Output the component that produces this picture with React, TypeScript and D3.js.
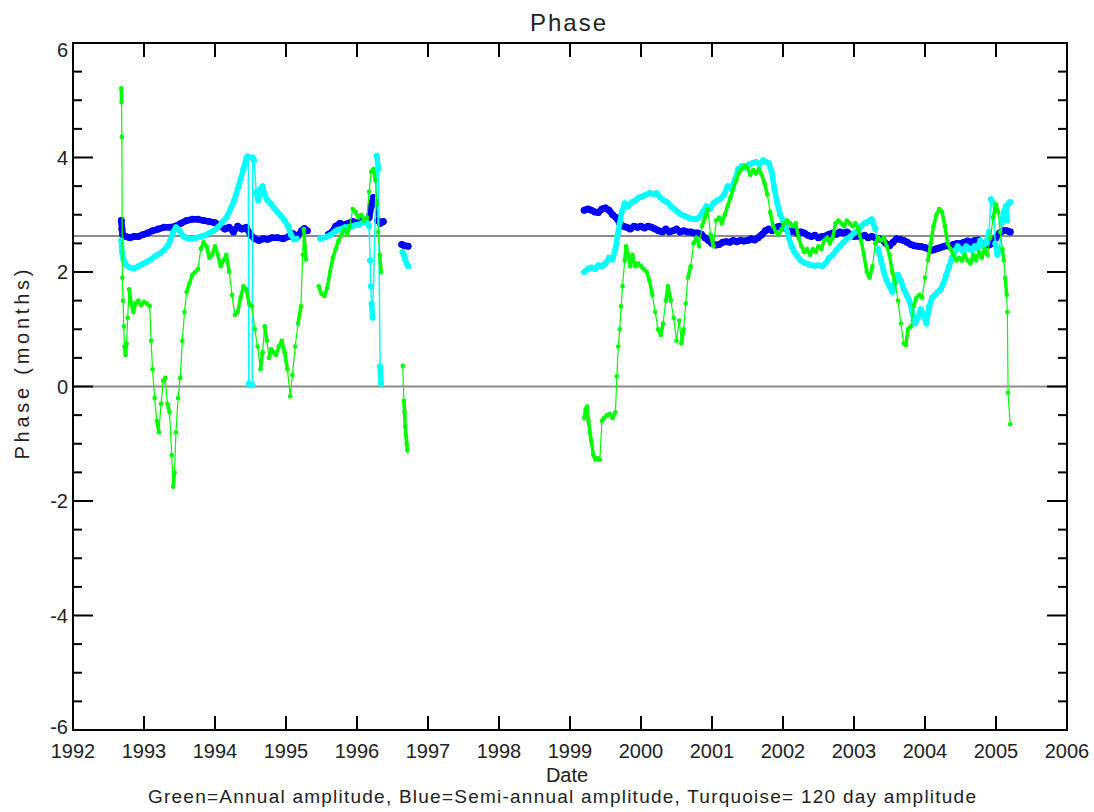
import React, { useEffect, useRef } from 'react';
import * as d3 from 'd3';

type Pt = [number, number | null];

const yearTicks = [1992, 1993, 1994, 1995, 1996, 1997, 1998, 1999, 2000, 2001, 2002, 2003, 2004, 2005, 2006];
const phaseTicks = [-6, -4, -2, 0, 2, 4, 6];
const refLevels = [0, 2.63];

// Green = annual amplitude phase (months)
const annual: Pt[] = [
  [1992.680, 5.21], [1992.684, 4.97], [1992.688, 4.36], [1992.695, 1.90], [1992.705, 1.50], [1992.715, 1.05],
  [1992.725, 0.70], [1992.740, 0.55], [1992.755, 0.75], [1992.770, 1.20], [1992.790, 1.70], [1992.820, 1.45],
  [1992.850, 1.30], [1992.880, 1.45], [1992.920, 1.50], [1992.960, 1.42], [1993.000, 1.48], [1993.040, 1.45],
  [1993.080, 1.40], [1993.100, 0.80], [1993.120, 0.30], [1993.150, -0.20], [1993.180, -0.60], [1993.210, -0.80],
  [1993.240, -0.30], [1993.270, 0.10], [1993.300, 0.15], [1993.330, -0.30], [1993.360, -0.45], [1993.390, -1.20],
  [1993.410, -1.75], [1993.430, -1.50], [1993.450, -0.80], [1993.480, -0.20], [1993.510, 0.15], [1993.540, 0.80],
  [1993.570, 1.30], [1993.600, 1.65], [1993.640, 1.80], [1993.680, 1.95], [1993.720, 2.00], [1993.760, 2.05],
  [1993.800, 2.40], [1993.840, 2.52], [1993.880, 2.45], [1993.920, 2.25], [1993.960, 2.30], [1994.000, 2.45],
  [1994.040, 2.30], [1994.080, 2.10], [1994.120, 2.20], [1994.160, 2.30], [1994.200, 2.00], [1994.240, 1.60],
  [1994.280, 1.25], [1994.320, 1.30], [1994.360, 1.55], [1994.400, 1.75], [1994.440, 1.70], [1994.480, 1.45],
  [1994.520, 1.40], [1994.560, 1.00], [1994.600, 0.70], [1994.640, 0.30], [1994.670, 0.60], [1994.700, 1.05],
  [1994.730, 0.80], [1994.760, 0.50], [1994.790, 0.65], [1994.820, 0.60], [1994.860, 0.55], [1994.900, 0.70],
  [1994.940, 0.80], [1994.980, 0.60], [1995.020, 0.30], [1995.060, -0.17], [1995.090, 0.20], [1995.130, 0.70],
  [1995.170, 1.10], [1995.210, 1.40], [1995.235, 2.30], [1995.250, 2.75], [1995.265, 2.45], [1995.280, 2.22],
  [1995.300, null],
  [1995.460, 1.75], [1995.500, 1.62], [1995.540, 1.58], [1995.580, 1.72], [1995.620, 2.00], [1995.660, 2.25],
  [1995.700, 2.40], [1995.740, 2.55], [1995.780, 2.65], [1995.820, 2.75], [1995.860, 2.65], [1995.900, 2.80],
  [1995.940, 3.10], [1995.980, 3.05], [1996.020, 2.95], [1996.060, 3.00], [1996.100, 2.90], [1996.140, 2.95],
  [1996.170, 3.40], [1996.200, 3.75], [1996.230, 3.80], [1996.260, 3.60], [1996.280, 3.20], [1996.300, 2.70],
  [1996.320, 2.30], [1996.340, 2.00],
  [1996.500, null],
  [1996.645, 0.36], [1996.660, -0.25], [1996.670, -0.45], [1996.680, -0.70], [1996.690, -0.85], [1996.700, -1.00],
  [1996.710, -1.12],
  [1998.000, null],
  [1999.200, -0.55], [1999.220, -0.40], [1999.240, -0.35], [1999.260, -0.60], [1999.280, -0.80], [1999.300, -0.95],
  [1999.330, -1.20], [1999.360, -1.28], [1999.390, -1.25], [1999.420, -1.28], [1999.450, -0.60], [1999.480, -0.55],
  [1999.520, -0.50], [1999.560, -0.48], [1999.600, -0.55], [1999.640, -0.45], [1999.660, 0.18], [1999.680, 0.70],
  [1999.700, 1.00], [1999.720, 1.40], [1999.740, 1.75], [1999.770, 2.20], [1999.790, 2.45], [1999.820, 2.30],
  [1999.850, 2.10], [1999.880, 2.30], [1999.920, 2.10], [1999.960, 2.15], [2000.000, 2.10], [2000.040, 2.05],
  [2000.080, 2.00], [2000.120, 1.85], [2000.160, 1.60], [2000.200, 1.30], [2000.240, 1.00], [2000.280, 0.90],
  [2000.310, 1.10], [2000.350, 1.50], [2000.380, 1.75], [2000.420, 1.50], [2000.460, 1.20], [2000.500, 0.80],
  [2000.540, 1.15], [2000.570, 0.75], [2000.600, 1.00], [2000.630, 1.45], [2000.660, 1.90], [2000.700, 2.10],
  [2000.740, 2.50], [2000.780, 2.60], [2000.820, 2.45], [2000.860, 2.80], [2000.900, 2.95], [2000.940, 3.10],
  [2000.980, 2.65], [2001.020, 2.45], [2001.060, 2.90], [2001.100, 2.95], [2001.140, 2.85], [2001.180, 3.00],
  [2001.220, 3.15], [2001.260, 3.30], [2001.300, 3.45], [2001.340, 3.60], [2001.380, 3.74], [2001.420, 3.80],
  [2001.460, 3.86], [2001.500, 3.82], [2001.540, 3.70], [2001.580, 3.78], [2001.620, 3.72], [2001.660, 3.80],
  [2001.700, 3.70], [2001.740, 3.55], [2001.780, 3.35], [2001.820, 3.05], [2001.860, 2.80], [2001.900, 2.70],
  [2001.940, 2.65], [2001.980, 2.75], [2002.020, 2.85], [2002.060, 2.90], [2002.100, 2.85], [2002.140, 2.80],
  [2002.180, 2.85], [2002.220, 2.60], [2002.260, 2.45], [2002.300, 2.35], [2002.340, 2.40], [2002.380, 2.30],
  [2002.420, 2.40], [2002.460, 2.35], [2002.500, 2.45], [2002.540, 2.40], [2002.580, 2.55], [2002.620, 2.60],
  [2002.660, 2.50], [2002.700, 2.60], [2002.740, 2.85], [2002.780, 2.90], [2002.820, 2.85], [2002.860, 2.80],
  [2002.900, 2.90], [2002.940, 2.85], [2002.980, 2.80], [2003.020, 2.85], [2003.060, 2.75], [2003.100, 2.55],
  [2003.140, 2.30], [2003.180, 2.00], [2003.220, 1.90], [2003.260, 2.10], [2003.300, 2.50], [2003.340, 2.60],
  [2003.380, 2.55], [2003.420, 2.60], [2003.460, 2.45], [2003.500, 2.30], [2003.540, 2.00], [2003.580, 1.80],
  [2003.620, 1.50], [2003.660, 1.10], [2003.700, 0.75], [2003.730, 0.72], [2003.760, 1.00], [2003.800, 1.05],
  [2003.840, 1.40], [2003.880, 1.55], [2003.920, 1.60], [2003.960, 1.55], [2004.000, 1.90], [2004.040, 2.20],
  [2004.080, 2.50], [2004.120, 2.80], [2004.160, 3.00], [2004.200, 3.10], [2004.240, 3.05], [2004.280, 2.80],
  [2004.320, 2.50], [2004.360, 2.40], [2004.400, 2.30], [2004.440, 2.20], [2004.480, 2.25], [2004.520, 2.20],
  [2004.560, 2.30], [2004.600, 2.20], [2004.640, 2.15], [2004.680, 2.30], [2004.720, 2.20], [2004.760, 2.35],
  [2004.800, 2.25], [2004.840, 2.40], [2004.880, 2.30], [2004.920, 2.60], [2004.960, 2.95], [2005.000, 3.18],
  [2005.030, 3.05], [2005.060, 2.70], [2005.090, 2.40], [2005.110, 2.20], [2005.130, 1.90], [2005.150, 1.60],
  [2005.160, 1.30], [2005.170, -0.11], [2005.200, -0.66],
];

// Blue = semi-annual amplitude phase
const semiAnnual: Pt[] = [
  [1992.680, 2.90], [1992.690, 2.75], [1992.700, 2.65], [1992.740, 2.62], [1992.800, 2.60], [1992.860, 2.62],
  [1992.920, 2.62], [1992.980, 2.65], [1993.050, 2.68], [1993.120, 2.72], [1993.200, 2.75], [1993.280, 2.78],
  [1993.360, 2.78], [1993.440, 2.80], [1993.520, 2.85], [1993.600, 2.90], [1993.680, 2.92], [1993.760, 2.92],
  [1993.840, 2.90], [1993.920, 2.88], [1994.000, 2.86], [1994.080, 2.80], [1994.140, 2.75], [1994.200, 2.78],
  [1994.260, 2.70], [1994.320, 2.80], [1994.380, 2.75], [1994.440, 2.78], [1994.500, 2.65], [1994.560, 2.58],
  [1994.620, 2.55], [1994.680, 2.58], [1994.740, 2.57], [1994.800, 2.60], [1994.880, 2.60], [1994.960, 2.58],
  [1995.040, 2.62], [1995.100, 2.67], [1995.160, 2.62], [1995.220, 2.72], [1995.260, 2.76], [1995.300, 2.72],
  [1995.400, null],
  [1995.600, 2.66], [1995.650, 2.70], [1995.700, 2.80], [1995.760, 2.85], [1995.820, 2.82], [1995.880, 2.85],
  [1995.940, 2.88], [1996.000, 2.85], [1996.060, 2.90], [1996.120, 2.88], [1996.170, 2.95], [1996.200, 3.15],
  [1996.230, 3.30], [1996.260, 3.20], [1996.290, 2.90], [1996.330, 2.85], [1996.370, 2.88],
  [1996.500, null],
  [1996.630, 2.48], [1996.670, 2.46], [1996.720, 2.45],
  [1998.000, null],
  [1999.200, 3.08], [1999.250, 3.10], [1999.300, 3.08], [1999.350, 3.05], [1999.400, 3.04], [1999.450, 3.10],
  [1999.500, 3.12], [1999.550, 3.08], [1999.600, 3.00], [1999.650, 2.95], [1999.700, 2.85], [1999.750, 2.80],
  [1999.800, 2.78], [1999.850, 2.75], [1999.900, 2.80], [1999.950, 2.78], [2000.000, 2.80], [2000.050, 2.77],
  [2000.100, 2.80], [2000.150, 2.78], [2000.200, 2.75], [2000.250, 2.72], [2000.300, 2.70], [2000.350, 2.75],
  [2000.400, 2.70], [2000.450, 2.72], [2000.500, 2.75], [2000.550, 2.70], [2000.600, 2.72], [2000.650, 2.70],
  [2000.700, 2.70], [2000.750, 2.68], [2000.800, 2.68], [2000.850, 2.66], [2000.900, 2.60], [2000.950, 2.55],
  [2001.000, 2.50], [2001.050, 2.47], [2001.100, 2.48], [2001.150, 2.52], [2001.200, 2.53], [2001.250, 2.52],
  [2001.300, 2.55], [2001.350, 2.53], [2001.400, 2.55], [2001.450, 2.54], [2001.500, 2.55], [2001.550, 2.58],
  [2001.600, 2.56], [2001.650, 2.60], [2001.700, 2.65], [2001.750, 2.72], [2001.800, 2.75], [2001.850, 2.72],
  [2001.900, 2.78], [2001.950, 2.80], [2002.000, 2.78], [2002.050, 2.75], [2002.100, 2.70], [2002.150, 2.72],
  [2002.200, 2.68], [2002.250, 2.70], [2002.300, 2.68], [2002.350, 2.64], [2002.400, 2.62], [2002.450, 2.64],
  [2002.500, 2.60], [2002.550, 2.62], [2002.600, 2.63], [2002.650, 2.66], [2002.700, 2.68], [2002.750, 2.66],
  [2002.800, 2.70], [2002.850, 2.68], [2002.900, 2.70], [2002.950, 2.66], [2003.000, 2.62], [2003.050, 2.63],
  [2003.100, 2.62], [2003.150, 2.64], [2003.200, 2.60], [2003.250, 2.62], [2003.300, 2.60], [2003.350, 2.58],
  [2003.400, 2.56], [2003.450, 2.50], [2003.500, 2.46], [2003.550, 2.52], [2003.600, 2.58], [2003.650, 2.57],
  [2003.700, 2.55], [2003.750, 2.52], [2003.800, 2.48], [2003.850, 2.46], [2003.900, 2.45], [2003.950, 2.44],
  [2004.000, 2.43], [2004.050, 2.40], [2004.100, 2.38], [2004.150, 2.40], [2004.200, 2.42], [2004.250, 2.44],
  [2004.300, 2.46], [2004.350, 2.45], [2004.400, 2.48], [2004.450, 2.50], [2004.500, 2.50], [2004.550, 2.52],
  [2004.600, 2.54], [2004.650, 2.52], [2004.700, 2.55], [2004.750, 2.56], [2004.800, 2.50], [2004.850, 2.48],
  [2004.900, 2.47], [2004.950, 2.50], [2005.000, 2.60], [2005.050, 2.68], [2005.100, 2.72], [2005.150, 2.72],
  [2005.200, 2.70],
];

// Turquoise = 120 day amplitude phase
const day120: Pt[] = [
  [1992.680, 2.55], [1992.690, 2.35], [1992.710, 2.22], [1992.750, 2.12], [1992.800, 2.08], [1992.860, 2.06],
  [1992.920, 2.10], [1992.980, 2.14], [1993.040, 2.18], [1993.100, 2.22], [1993.160, 2.28], [1993.220, 2.32],
  [1993.280, 2.38], [1993.330, 2.45], [1993.370, 2.55], [1993.410, 2.70], [1993.450, 2.78], [1993.500, 2.72],
  [1993.560, 2.62], [1993.620, 2.58], [1993.680, 2.58], [1993.740, 2.60], [1993.800, 2.62], [1993.860, 2.64],
  [1993.920, 2.68], [1993.980, 2.72], [1994.040, 2.78], [1994.100, 2.86], [1994.160, 2.95], [1994.220, 3.10],
  [1994.270, 3.25], [1994.320, 3.45], [1994.360, 3.62], [1994.400, 3.80], [1994.440, 3.98], [1994.460, 4.02],
  [1994.470, 4.00], [1994.475, 0.05], [1994.490, 0.02], [1994.510, 0.05], [1994.525, 0.03], [1994.530, 4.00],
  [1994.550, 3.95], [1994.580, 3.40], [1994.610, 3.25], [1994.640, 3.45], [1994.670, 3.50], [1994.700, 3.35],
  [1994.740, 3.25], [1994.780, 3.20], [1994.830, 3.12], [1994.880, 3.05], [1994.930, 2.98], [1994.980, 2.90],
  [1995.030, 2.80], [1995.070, 2.65], [1995.110, 2.57], [1995.150, 2.58],
  [1995.200, null],
  [1995.480, 2.58], [1995.530, 2.60], [1995.580, 2.62], [1995.630, 2.65], [1995.680, 2.70], [1995.730, 2.74],
  [1995.780, 2.75], [1995.830, 2.78], [1995.880, 2.78], [1995.930, 2.80], [1995.980, 2.82], [1996.030, 2.83],
  [1996.080, 2.86], [1996.130, 2.88], [1996.170, 2.80], [1996.185, 2.20], [1996.195, 1.75], [1996.205, 1.45],
  [1996.220, 1.20], [1996.280, 4.03], [1996.300, 3.80], [1996.325, 0.35], [1996.340, 0.05],
  [1996.500, null],
  [1996.640, 2.35], [1996.660, 2.30], [1996.680, 2.22], [1996.700, 2.15], [1996.720, 2.10],
  [1998.000, null],
  [1999.200, 2.00], [1999.250, 2.05], [1999.300, 2.08], [1999.350, 2.05], [1999.400, 2.12], [1999.450, 2.10],
  [1999.500, 2.15], [1999.550, 2.25], [1999.600, 2.22], [1999.640, 2.40], [1999.670, 2.65], [1999.700, 2.85],
  [1999.730, 3.05], [1999.770, 3.20], [1999.820, 3.15], [1999.870, 3.22], [1999.920, 3.25], [1999.970, 3.30],
  [2000.020, 3.32], [2000.070, 3.35], [2000.120, 3.38], [2000.170, 3.36], [2000.220, 3.38], [2000.270, 3.30],
  [2000.320, 3.25], [2000.370, 3.22], [2000.420, 3.15], [2000.470, 3.10], [2000.520, 3.05], [2000.570, 3.00],
  [2000.620, 2.98], [2000.670, 2.95], [2000.720, 2.93], [2000.770, 2.92], [2000.820, 2.95], [2000.870, 3.05],
  [2000.920, 3.15], [2000.970, 3.10], [2001.020, 3.20], [2001.070, 3.25], [2001.120, 3.28], [2001.170, 3.35],
  [2001.220, 3.50], [2001.270, 3.45], [2001.320, 3.60], [2001.370, 3.80], [2001.420, 3.85], [2001.470, 3.82],
  [2001.520, 3.88], [2001.570, 3.90], [2001.620, 3.92], [2001.670, 3.88], [2001.720, 3.95], [2001.760, 3.92],
  [2001.800, 3.90], [2001.840, 3.75], [2001.880, 3.45], [2001.920, 3.20], [2001.960, 3.00], [2002.000, 2.90],
  [2002.040, 2.80], [2002.080, 2.60], [2002.120, 2.45], [2002.160, 2.35], [2002.200, 2.28], [2002.250, 2.20],
  [2002.300, 2.16], [2002.350, 2.14], [2002.400, 2.12], [2002.450, 2.11], [2002.500, 2.12], [2002.550, 2.10],
  [2002.600, 2.15], [2002.650, 2.25], [2002.700, 2.30], [2002.750, 2.38], [2002.800, 2.45], [2002.850, 2.52],
  [2002.900, 2.58], [2002.950, 2.62], [2003.000, 2.68], [2003.050, 2.72], [2003.100, 2.80], [2003.150, 2.85],
  [2003.200, 2.88], [2003.250, 2.92], [2003.300, 2.75], [2003.340, 2.40], [2003.380, 2.20], [2003.420, 2.00],
  [2003.460, 1.85], [2003.500, 1.75], [2003.540, 1.65], [2003.580, 1.85], [2003.620, 1.95], [2003.660, 1.85],
  [2003.700, 1.70], [2003.740, 1.60], [2003.780, 1.50], [2003.820, 1.30], [2003.860, 1.10], [2003.900, 1.20],
  [2003.940, 1.35], [2003.980, 1.25], [2004.020, 1.10], [2004.060, 1.40], [2004.100, 1.55], [2004.140, 1.60],
  [2004.180, 1.65], [2004.220, 1.70], [2004.260, 1.80], [2004.300, 1.95], [2004.340, 2.10], [2004.380, 2.25],
  [2004.420, 2.35], [2004.460, 2.45], [2004.500, 2.40], [2004.540, 2.35], [2004.580, 2.45], [2004.620, 2.40],
  [2004.660, 2.38], [2004.700, 2.45], [2004.740, 2.42], [2004.780, 2.55], [2004.820, 2.45], [2004.860, 2.50],
  [2004.900, 2.70], [2004.930, 3.27], [2004.960, 3.20], [2004.990, 2.50], [2005.020, 2.30], [2005.050, 2.40],
  [2005.080, 2.85], [2005.110, 3.05], [2005.140, 3.15], [2005.160, 2.90], [2005.180, 3.20], [2005.200, 3.22],
];

// break a series wherever consecutive values jump by more than maxJump,
// so the thick band only follows the smooth parts
const bandOf = (data: Pt[], maxJump: number): Pt[] => {
  const out: Pt[] = [];
  data.forEach((d, i) => {
    const prev = data[i - 1];
    if (prev && prev[1] !== null && d[1] !== null && Math.abs(d[1] - prev[1]) > maxJump) {
      out.push([d[0], null]);
    }
    out.push(d);
  });
  return out;
};

const App = () => {
  const svgRef = useRef<SVGSVGElement>(null);

  useEffect(() => {
    const svg = d3.select(svgRef.current);
    svg.selectAll('*').remove();
    const width = 1094;
    const height = 812;
    const margin = { top: 43, right: 27, bottom: 82, left: 73 };
    const font = '"Liberation Sans", Arial, Helvetica, sans-serif';

    const x = d3.scaleLinear().domain([1992, 2006]).range([margin.left, width - margin.right]);
    const y = d3.scaleLinear().domain([-6, 6]).range([height - margin.bottom, margin.top]);
    const x0 = x.range()[0];
    const x1 = x.range()[1];
    const yTop = y.range()[1];
    const yBot = y.range()[0];

    svg.append('rect').attr('width', width).attr('height', height).attr('fill', '#fff');

    svg.append('defs').append('clipPath').attr('id', 'plot-clip')
      .append('rect').attr('x', x0).attr('y', yTop).attr('width', x1 - x0).attr('height', yBot - yTop);

    // grey reference levels
    svg.append('g').selectAll('line').data(refLevels).enter().append('line')
      .attr('x1', x0).attr('x2', x1)
      .attr('y1', (d) => y(d)).attr('y2', (d) => y(d))
      .attr('stroke', '#8c8c8c').attr('stroke-width', 2);

    const plot = svg.append('g').attr('clip-path', 'url(#plot-clip)');

    const line = d3.line<Pt>()
      .defined((d) => d[1] !== null)
      .x((d) => x(d[0]))
      .y((d) => y(d[1] as number));

    const series = [
      { data: semiAnnual, color: '#0000ff', r: 3.5, lw: 1.5, band: 6.5, jump: 0.25 },
      { data: day120, color: '#00ffff', r: 3.0, lw: 1.5, band: 5.5, jump: 0.3 },
      { data: annual, color: '#00ff00', r: 2.3, lw: 1.2, band: 3.5, jump: 0.3 },
    ];

    series.forEach((s) => {
      plot.append('path')
        .datum(s.data)
        .attr('d', line)
        .attr('fill', 'none')
        .attr('stroke', s.color)
        .attr('stroke-width', s.lw);
      plot.append('path')
        .datum(bandOf(s.data, s.jump))
        .attr('d', line)
        .attr('fill', 'none')
        .attr('stroke', s.color)
        .attr('stroke-linejoin', 'round')
        .attr('stroke-linecap', 'round')
        .attr('stroke-width', s.band);
      plot.append('g').selectAll('circle')
        .data(s.data.filter((d) => d[1] !== null))
        .enter().append('circle')
        .attr('cx', (d) => x(d[0]))
        .attr('cy', (d) => y(d[1] as number))
        .attr('r', s.r)
        .attr('fill', s.color);
    });

    // frame
    svg.append('rect')
      .attr('x', x0).attr('y', yTop).attr('width', x1 - x0).attr('height', yBot - yTop)
      .attr('fill', 'none').attr('stroke', '#000').attr('stroke-width', 2);

    const ticks = svg.append('g').attr('stroke', '#000').attr('stroke-width', 2);

    // year ticks, top and bottom
    yearTicks.forEach((t) => {
      ticks.append('line').attr('x1', x(t)).attr('x2', x(t)).attr('y1', yBot).attr('y2', yBot - 14);
      ticks.append('line').attr('x1', x(t)).attr('x2', x(t)).attr('y1', yTop).attr('y2', yTop + 14);
    });

    // phase ticks, left and right (major + minor)
    d3.range(-6, 6.01, 0.5).forEach((t) => {
      const len = phaseTicks.includes(t) ? 20 : 9;
      ticks.append('line').attr('x1', x0).attr('x2', x0 + len).attr('y1', y(t)).attr('y2', y(t));
      ticks.append('line').attr('x1', x1).attr('x2', x1 - len).attr('y1', y(t)).attr('y2', y(t));
    });

    // tick labels
    svg.append('g').selectAll('text').data(yearTicks).enter().append('text')
      .attr('x', (d) => x(d)).attr('y', yBot + 28)
      .attr('text-anchor', 'middle')
      .style('font-family', font).style('font-size', '20px').attr('fill', '#222')
      .text((d) => d);

    svg.append('g').selectAll('text').data(phaseTicks).enter().append('text')
      .attr('x', x0 - 5)
      .attr('y', (d) => Math.min(Math.max(y(d) + 7, yTop + 14), yBot + 4))
      .attr('text-anchor', 'end')
      .style('font-family', font).style('font-size', '20px').attr('fill', '#222')
      .text((d) => d);

    // title
    svg.append('text')
      .attr('x', (x0 + x1) / 2 - 2).attr('y', 31)
      .attr('text-anchor', 'middle')
      .attr('textLength', 76)
      .style('font-family', font).style('font-size', '24px').attr('fill', '#222')
      .text('Phase');

    // x-axis label
    svg.append('text')
      .attr('x', 567).attr('y', 782)
      .attr('text-anchor', 'middle')
      .style('font-family', font).style('font-size', '20px').attr('fill', '#222')
      .text('Date');

    svg.append('text')
      .attr('x', 562).attr('y', 803)
      .attr('text-anchor', 'middle')
      .attr('textLength', 828)
      .style('font-family', font).style('font-size', '19px').attr('fill', '#222')
      .text('Green=Annual amplitude, Blue=Semi-annual amplitude, Turquoise= 120 day amplitude');

    // y-axis label
    svg.append('text')
      .attr('transform', `translate(29,${(yTop + yBot) / 2 - 22}) rotate(-90)`)
      .attr('text-anchor', 'middle')
      .attr('textLength', 190)
      .style('font-family', font).style('font-size', '20px').attr('fill', '#222')
      .text('Phase (months)');
  }, []);

  return <svg ref={svgRef} width={1094} height={812} style={{ position: 'absolute', left: 0, top: 0 }} />;
};

export default App;
